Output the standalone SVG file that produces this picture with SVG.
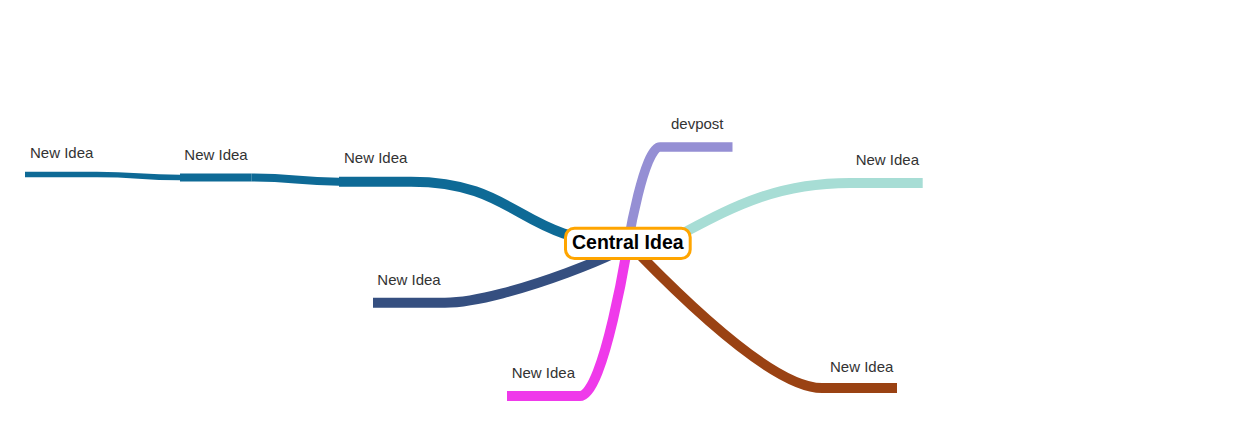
<svg xmlns="http://www.w3.org/2000/svg" width="1255" height="426" viewBox="0 0 1255 426">
<style>
  .lbl { font-family: "Liberation Sans", Arial, sans-serif; font-size: 15px; fill: #333333; }
  .root { font-family: "Liberation Sans", Arial, sans-serif; font-size: 19.5px; font-weight: bold; fill: #000000; }
  path, line { fill: none; }
</style>
<rect width="1255" height="426" fill="#ffffff"/>
<g id="connectors">
  <!-- dark blue branch -->
  <path d="M 628 243 C 519.5 243, 519.5 181.7, 411 181.7" stroke="#0e6a96" stroke-width="10"/>
  <line x1="411" y1="181.7" x2="339" y2="181.7" stroke="#0e6a96" stroke-width="10"/>
  <path d="M 339 181.7 C 295 181.7, 296 177.5, 251.7 177.5" stroke="#0e6a96" stroke-width="8"/>
  <line x1="251.7" y1="177.5" x2="180" y2="177.5" stroke="#0e6a96" stroke-width="8"/>
  <path d="M 180 177.5 C 138 177.5, 139 174.5, 97 174.5" stroke="#0e6a96" stroke-width="5.5"/>
  <line x1="97" y1="174.5" x2="25" y2="174.5" stroke="#0e6a96" stroke-width="5.5"/>
  <!-- navy branch -->
  <path d="M 628 243 C 647 243, 507 302.7, 445 302.7 L 373 302.7" stroke="#354f80" stroke-width="10"/>
  <!-- magenta branch -->
  <path d="M 628 243 C 628 243, 604 396, 580 396 L 507 396" stroke="#ef3aea" stroke-width="10"/>
  <!-- brown branch -->
  <path d="M 628 243 C 630 243, 760 388, 822 388 L 897 388" stroke="#9a4213" stroke-width="10"/>
  <!-- light teal branch -->
  <path d="M 660 245 C 720 215, 765 183, 850 183 L 922.7 183" stroke="#a7ddd5" stroke-width="10"/>
  <!-- purple branch -->
  <path d="M 628 243 C 628 243, 644 147, 660 147 L 732.5 147" stroke="#958fd4" stroke-width="9.5"/>
</g>
<g id="root">
  <rect x="565.5" y="228.2" width="124.7" height="30.3" rx="9" ry="9" fill="#ffffff" stroke="#ffa500" stroke-width="3"/>
  <text class="root" x="627.8" y="249.3" text-anchor="middle">Central Idea</text>
</g>
<g id="node-l1"><text class="lbl" x="344" y="163.3">New Idea</text></g>
<g id="node-l2"><text class="lbl" x="184.3" y="160">New Idea</text></g>
<g id="node-l3"><text class="lbl" x="30" y="158.3">New Idea</text></g>
<g id="node-navy"><text class="lbl" x="377.3" y="285">New Idea</text></g>
<g id="node-magenta"><text class="lbl" x="511.7" y="378.3">New Idea</text></g>
<g id="node-brown"><text class="lbl" x="830" y="371.7">New Idea</text></g>
<g id="node-teal"><text class="lbl" x="855.7" y="165">New Idea</text></g>
<g id="node-devpost"><text class="lbl" x="671" y="129">devpost</text></g>
</svg>
